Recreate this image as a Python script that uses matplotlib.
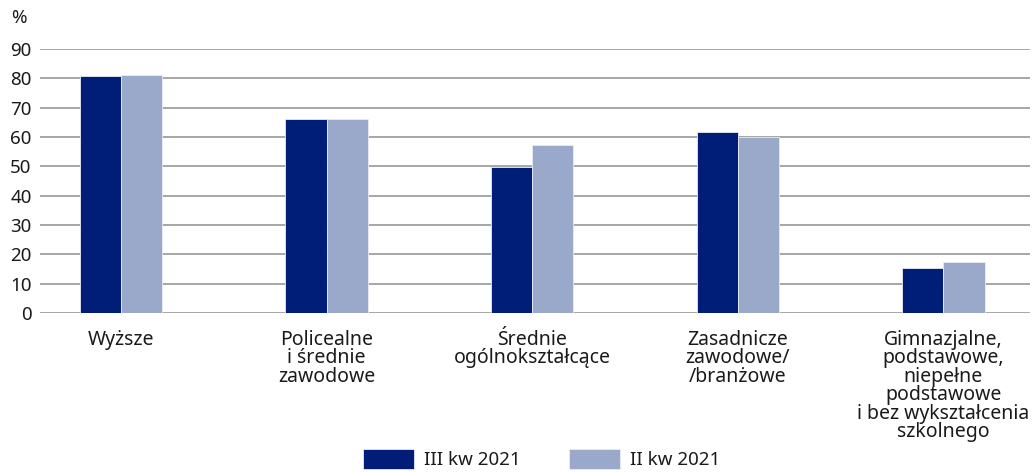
import matplotlib
matplotlib.use("Agg")
import matplotlib.pyplot as plt
import numpy as np

plt.rcParams['font.family'] = ['Noto Sans', 'DejaVu Sans']

# dane
kategorie = ["Wyższe",
             "Policealne\ni średnie\nzawodowe",
             "Średnie\nogólnokształcące",
             "Zasadnicze\nzawodowe/\n/branżowe",
             "Gimnazjalne,\npodstawowe,\nniepełne\npodstawowe\ni bez wykształcenia\nszkolnego"]
iii_kw_2021 = [80.9, 66.3, 49.7, 61.8, 15.4]
ii_kw_2021 = [81.2, 66.3, 57.1, 60.0, 17.4]
serie = ["III kw 2021", "II kw 2021"]
kolory = ["#001e78", "#9aa8c9"]
yticks = list(range(0, 100, 10))

fig = plt.figure(figsize=(10.36, 4.72), dpi=100)
ax = fig.add_axes([0.0386, 0.3369, 0.9554, 0.5593])

x = np.arange(len(kategorie))
w = 0.2
ax.bar(x - w / 2, iii_kw_2021, w, color=kolory[0], edgecolor="#e8ebf3", linewidth=0.6,
       label=serie[0], zorder=3)
ax.bar(x + w / 2, ii_kw_2021, w, color=kolory[1], edgecolor="#e8ebf3", linewidth=0.6,
       label=serie[1], zorder=3)

ax.set_ylim(0, 90)
ax.set_xlim(-0.394, 4.42)
ax.set_yticks(yticks)
ax.yaxis.grid(True, color="#a6a6a6", linewidth=1.4, zorder=0)
ax.set_axisbelow(True)
for s in ax.spines.values():
    s.set_visible(False)
ax.tick_params(axis="y", length=0, pad=6, labelsize=13.5, labelcolor="#1a1a1a")
ax.tick_params(axis="x", length=0)
ax.set_xticks(x)
ax.set_xticklabels([])

# etykiety kategorii pod osia
for xi, lab in zip(x, kategorie):
    ax.annotate(lab, xy=(xi, 0), xycoords=("data", "axes fraction"),
                xytext=(0, -17), textcoords="offset pixels",
                ha="center", va="top", fontsize=14, linespacing=0.9,
                color="#1a1a1a")

fig.text(0.011, 0.962, "%", fontsize=13.5, va="center", ha="left", color="#1a1a1a")

fig.legend(loc="lower center", bbox_to_anchor=(0.523, -0.03), ncol=2, frameon=False,
           prop={"family": ["Noto Sans", "DejaVu Sans"], "size": 13.5},
           handlelength=2.7, handleheight=1.2, handletextpad=0.55,
           columnspacing=2.6, labelcolor="#1a1a1a")

fig.savefig("out.png", dpi=100)
